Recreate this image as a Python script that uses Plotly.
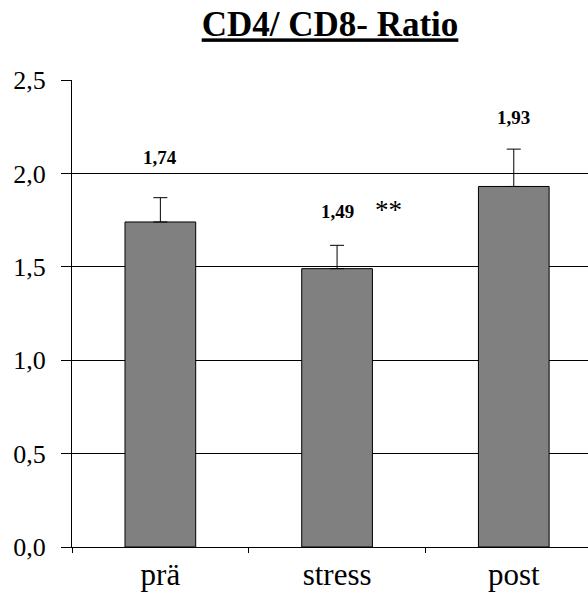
import plotly.graph_objects as go

categories = ["prä", "stress", "post"]
values = [1.74, 1.49, 1.93]
errors = [0.13, 0.125, 0.20]
value_labels = ["1,74", "1,49", "1,93"]
label_shift = [28, 21, 19]
y_ticks = [0.0, 0.5, 1.0, 1.5, 2.0, 2.5]
y_tick_labels = ["0,0", "0,5", "1,0", "1,5", "2,0", "2,5"]
significance = "**"

FONT = "Liberation Serif, Times New Roman, serif"

fig = go.Figure()
fig.add_trace(go.Bar(
    x=categories,
    y=values,
    width=0.4,
    marker=dict(color="#808080", line=dict(color="#000000", width=1)),
    error_y=dict(type="data", array=errors, arrayminus=[0] * len(errors),
                 symmetric=False, color="#000000", thickness=1, width=7),
    showlegend=False,
    hoverinfo="skip",
))

for cat, v, e, lab, sh in zip(categories, values, errors, value_labels, label_shift):
    fig.add_annotation(x=cat, y=v + e, text="<b>" + lab + "</b>", showarrow=False,
                       yanchor="bottom", yshift=sh,
                       font=dict(family=FONT, size=19, color="#000000"))

fig.add_annotation(x=categories[1], y=values[1] + errors[1], text=significance,
                   showarrow=False, yanchor="bottom", yshift=18, xshift=51,
                   font=dict(family=FONT, size=27, color="#000000"))

fig.update_layout(
    template="none",
    width=588, height=593,
    margin=dict(l=72, r=0, t=80, b=46),
    paper_bgcolor="white", plot_bgcolor="white",
    font=dict(family=FONT, color="#000000"),
    title=dict(text="<b><u>CD4/ CD8- Ratio</u></b>", x=0.5, xref="paper",
               y=0.98, yref="container", yanchor="top",
               font=dict(family=FONT, size=35, color="#000000")),
    bargap=0.6,
)
fig.update_xaxes(
    type="category",
    range=[-0.5, 2.42], showline=True, linecolor="#000000", linewidth=1,
    ticks="outside", tickson="boundaries", ticklen=5, tickcolor="#000000",
    showgrid=False, tickfont=dict(family=FONT, size=31, color="#000000"),
)
fig.update_yaxes(
    range=[0, 2.5], tickvals=y_ticks, ticktext=y_tick_labels,
    showline=True, linecolor="#000000", linewidth=1,
    ticks="outside", ticklen=10, tickcolor="#000000",
    showgrid=True, gridcolor="#000000", gridwidth=1,
    zeroline=False, ticklabelstandoff=10,
    tickfont=dict(family=FONT, size=26, color="#000000"),
)

post = (
    "document.body.style.margin='0';"
    "document.body.style.overflow='hidden';"
)
fig.write_html("out.html", config={"displayModeBar": False}, post_script=post)
